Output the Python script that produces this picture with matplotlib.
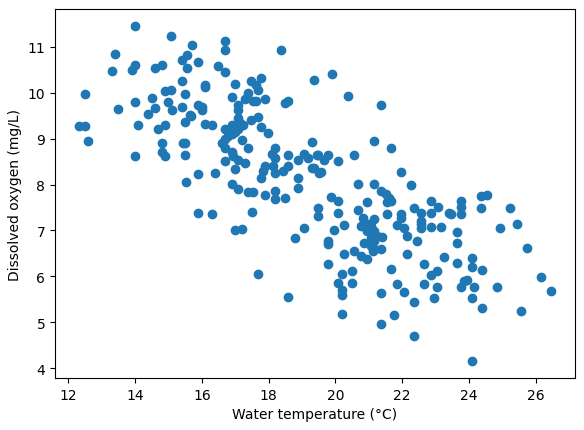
import matplotlib
matplotlib.use("Agg")
import matplotlib.pyplot as plt

temperature = [
    14.00, 15.07, 15.71, 13.40, 14.00, 13.90, 13.30, 14.60, 14.80, 15.41, 15.57, 15.57,
    12.51, 15.41, 14.90, 15.07, 15.49, 14.00, 14.50, 15.00, 15.10, 14.60, 15.41, 13.50,
    14.40, 15.64, 15.49, 14.90, 14.70, 14.10, 12.31, 12.51, 12.60, 14.80, 15.44, 15.51,
    14.80, 14.90, 14.00, 15.49, 15.54,
    16.69, 16.69, 18.38, 15.89, 16.49, 16.69, 16.99, 17.48, 17.78, 16.09, 16.09, 17.63,
    17.68, 19.37, 17.38, 16.90, 17.28, 17.53, 17.63, 17.88, 18.48, 18.58, 17.08, 17.08,
    15.89, 15.99, 15.99, 15.69, 16.09, 16.31, 17.08, 17.13, 17.23, 17.48, 17.68, 17.78,
    17.98, 16.69, 16.89, 16.79, 16.79, 16.89, 16.99, 17.08, 16.69, 16.59, 17.20, 17.38,
    16.69, 16.89, 16.94, 16.69, 17.08, 17.28, 16.99, 18.18, 18.10, 18.18, 18.58, 17.88,
    17.83, 17.78, 18.13, 18.18, 18.43, 18.58, 18.87, 19.07, 19.17, 19.29, 19.45, 19.29,
    19.52, 15.89, 16.39, 16.89, 17.08, 17.38, 17.53, 17.88, 18.18, 18.87, 18.87, 18.48,
    18.18, 19.47, 19.47, 15.89, 16.31, 17.50, 16.99, 17.20, 19.07, 18.78, 17.68, 18.58,
    19.90, 20.37, 21.38, 21.16, 21.68, 19.47, 19.67, 19.77, 20.07, 19.37, 19.57, 20.57,
    21.98, 20.67, 21.16, 22.26, 21.36, 21.51, 21.61, 21.66, 21.56, 19.87, 20.07, 20.96,
    22.87, 23.07, 22.36, 20.07, 20.67, 20.82, 21.16, 21.01, 21.56, 21.98, 21.98, 22.56,
    22.56, 22.56, 22.56, 22.87, 22.87, 23.17, 23.40, 20.27, 19.97, 20.77, 20.96, 21.06,
    21.16, 21.26, 21.06, 21.16, 21.41, 21.86, 22.06, 22.16, 22.46, 19.77, 19.77, 20.87,
    21.07, 21.36, 20.57,
    21.07, 21.12, 20.96, 20.77, 21.16, 20.27, 22.16, 23.25, 19.77, 22.66, 20.19, 20.49,
    21.68, 22.85, 23.05, 20.07, 20.49, 20.19, 20.19, 21.86, 22.06, 22.66, 23.05, 21.38,
    22.36, 22.96, 20.19, 21.76, 21.38, 22.36,
    24.35, 24.55, 23.77, 23.77, 23.77, 23.47, 24.35, 25.24, 25.44, 24.94, 23.65, 23.65,
    25.74, 23.65, 24.08, 24.08, 24.38, 26.17, 23.85, 23.95, 23.77, 24.15, 24.84, 26.47,
    24.08, 24.38, 25.56, 24.08,
]

oxygen = [
    11.46, 11.24, 11.04, 10.84, 10.61, 10.50, 10.48, 10.54, 10.61, 10.72, 10.83, 10.54,
    9.97, 10.25, 10.04, 10.07, 9.98, 9.80, 9.88, 9.79, 9.63, 9.67, 9.69, 9.65,
    9.54, 9.52, 9.36, 9.29, 9.20, 9.29, 9.28, 9.28, 8.96, 8.91, 8.91, 8.91,
    8.72, 8.62, 8.62, 8.64, 8.06,
    11.13, 10.93, 10.93, 10.66, 10.59, 10.46, 10.20, 10.25, 10.32, 10.17, 10.12, 10.17,
    10.07, 10.28, 10.00, 9.91, 9.86, 9.81, 9.83, 9.86, 9.78, 9.81, 9.74, 9.63,
    9.74, 9.70, 9.63, 9.50, 9.32, 9.29, 9.45, 9.34, 9.30, 9.41, 9.48, 9.25,
    9.12, 9.22, 9.29, 9.18, 9.05, 9.10, 9.15, 9.20, 8.99, 8.91, 8.98, 8.80,
    8.80, 8.70, 8.62, 8.51, 8.54, 8.47, 8.33, 8.80, 8.67, 8.58, 8.65, 8.40,
    8.29, 8.15, 8.40, 8.25, 8.29, 8.41, 8.54, 8.67, 8.58, 8.93, 8.65, 8.36,
    8.26, 8.22, 8.25, 8.02, 7.91, 7.83, 7.83, 7.77, 7.85, 8.15, 7.93, 7.71,
    7.69, 7.49, 7.31, 7.37, 7.35, 7.41, 7.00, 7.04, 7.06, 6.84, 6.06, 5.54,
    10.42, 9.93, 9.74, 8.96, 8.80, 8.65, 8.54, 8.65, 8.52, 8.36, 8.27, 8.65,
    8.28, 8.02, 8.02, 8.00, 7.87, 7.80, 7.71, 7.65, 7.62, 7.72, 7.65, 7.62,
    7.64, 7.52, 7.48, 7.38, 7.44, 7.28, 7.24, 7.13, 7.35, 7.35, 7.28, 7.37,
    7.20, 7.13, 7.06, 7.37, 7.07, 7.07, 7.37, 7.11, 7.02, 7.09, 6.98, 7.10,
    6.98, 6.88, 6.84, 6.77, 6.86, 7.11, 7.06, 6.89, 6.77, 6.78, 6.70, 6.73,
    6.67, 6.60, 6.55,
    6.73, 6.55, 6.37, 6.44, 6.59, 6.48, 6.48, 6.43, 6.26, 6.26, 6.06, 6.11,
    6.15, 6.04, 6.11, 5.85, 5.86, 5.70, 5.59, 5.83, 5.65, 5.83, 5.76, 5.63,
    5.45, 5.52, 5.17, 5.15, 4.96, 4.71,
    7.76, 7.78, 7.65, 7.51, 7.36, 7.36, 7.49, 7.49, 7.13, 7.06, 6.97, 6.73,
    6.61, 6.28, 6.41, 6.21, 6.13, 5.99, 5.90, 5.92, 5.76, 5.76, 5.76, 5.67,
    5.52, 5.32, 5.25, 4.15,
]

fig, ax = plt.subplots(figsize=(5.84, 4.31), dpi=100)
fig.subplots_adjust(left=0.0942, right=0.9846, top=0.9768, bottom=0.1206)
ax.scatter(temperature, oxygen, color="#1f77b4")
ax.set_xlabel("Water temperature (°C)")
ax.set_ylabel("Dissolved oxygen (mg/L)")
fig.savefig("out.png", dpi=100)
